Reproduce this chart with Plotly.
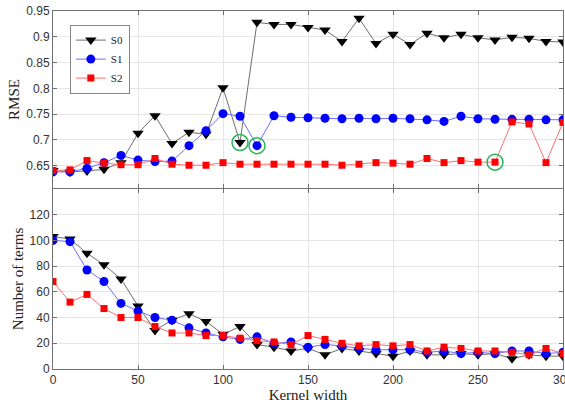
import plotly.graph_objects as go

kernel_width = list(range(0, 301, 10))

rmse_s0 = [0.641, 0.638, 0.640, 0.643, 0.656, 0.713, 0.747, 0.693, 0.715, 0.711,
           0.801, 0.695, 0.928, 0.924, 0.924, 0.918, 0.913, 0.891, 0.936, 0.887,
           0.905, 0.885, 0.907, 0.898, 0.905, 0.898, 0.894, 0.899, 0.897, 0.891, 0.890]
rmse_s1 = [0.638, 0.638, 0.645, 0.656, 0.670, 0.661, 0.658, 0.659, 0.689, 0.718,
           0.751, 0.746, 0.689, 0.747, 0.744, 0.743, 0.742, 0.741, 0.742, 0.741,
           0.742, 0.741, 0.739, 0.736, 0.746, 0.741, 0.740, 0.740, 0.740, 0.739, 0.739]
rmse_s2 = [0.641, 0.642, 0.660, 0.655, 0.652, 0.652, 0.664, 0.653, 0.651, 0.651,
           0.656, 0.653, 0.653, 0.653, 0.653, 0.653, 0.653, 0.651, 0.653, 0.656,
           0.655, 0.653, 0.664, 0.656, 0.660, 0.657, 0.657, 0.735, 0.731, 0.656, 0.734]

terms_s0 = [103, 101, 90, 81, 70, 49, 30, 38, 43, 37,
            27, 33, 19, 17, 14, 16, 11, 16, 14, 12,
            10, 14, 11, 11, 12, 11, 12, 8, 11, 10, 10]
terms_s1 = [100, 99, 77, 68, 51, 45, 40, 38, 32, 28,
            25, 23, 25, 20, 21, 17, 19, 18, 16, 15,
            15, 15, 13, 14, 12, 13, 12, 14, 14, 12, 13]
terms_s2 = [68, 52, 58, 47, 40, 40, 33, 28, 28, 26,
            26, 24, 22, 21, 19, 26, 23, 20, 18, 19,
            18, 19, 14, 17, 16, 14, 14, 13, 11, 16, 12]

# highlighted minima (kernel width, RMSE)
highlight_x = [110, 120, 260]
highlight_y = [0.695, 0.689, 0.657]

series = [
    ("S0", rmse_s0, terms_s0, "black", "rgb(110,110,110)", "triangle-down", 10),
    ("S1", rmse_s1, terms_s1, "rgb(0,0,255)", "rgb(110,110,255)", "circle", 9),
    ("S2", rmse_s2, terms_s2, "rgb(255,0,0)", "rgb(255,110,110)", "square", 7),
]

fig = go.Figure()
for name, r, t, mc, lc, sym, sz in series:
    fig.add_trace(go.Scatter(x=kernel_width, y=r, name=name, mode="lines+markers",
                             line=dict(color=lc, width=1),
                             marker=dict(symbol=sym, size=sz, color=mc),
                             xaxis="x", yaxis="y"))
for name, r, t, mc, lc, sym, sz in series:
    fig.add_trace(go.Scatter(x=kernel_width, y=t, name=name, mode="lines+markers",
                             line=dict(color=lc, width=1),
                             marker=dict(symbol=sym, size=sz, color=mc),
                             showlegend=False, xaxis="x2", yaxis="y2"))
fig.add_trace(go.Scatter(x=highlight_x, y=highlight_y, mode="markers",
                         marker=dict(symbol="circle-open", size=16,
                                     color="rgb(40,180,90)", line=dict(width=1.5)),
                         showlegend=False, xaxis="x", yaxis="y"))

axis_common = dict(showline=True, linecolor="#707070", linewidth=1, mirror="ticks",
                   ticks="inside", ticklen=4, tickcolor="#707070",
                   gridcolor="#e6e6e6", gridwidth=1, zeroline=False,
                   ticklabeloverflow="allow", automargin=False,
                   tickfont=dict(family="Liberation Sans, Arial", size=12, color="#333"))

serif = "Liberation Serif, Times New Roman, serif"

fig.update_layout(
    width=565, height=407,
    margin=dict(l=53, r=2, t=11, b=38),
    plot_bgcolor="white", paper_bgcolor="white",
    xaxis=dict(axis_common, domain=[0, 1], range=[0, 300], tickvals=list(range(0, 301, 50)),
               showticklabels=False, anchor="y"),
    yaxis=dict(axis_common, domain=[0.5058, 1], range=[0.607, 0.95],
               tickvals=[0.65, 0.7, 0.75, 0.8, 0.85, 0.9, 0.95],
               ticktext=["0.65", "0.7", "0.75", "0.8", "0.85", "0.9", "0.95"],
               title=dict(text="RMSE", font=dict(family=serif, size=15, color="#222"), standoff=2),
               anchor="x"),
    xaxis2=dict(axis_common, domain=[0, 1], range=[0, 300], tickvals=list(range(0, 301, 50)),
                anchor="y2",
                title=dict(text="Kernel width", font=dict(family=serif, size=15, color="#222"),
                           standoff=3)),
    yaxis2=dict(axis_common, domain=[0, 0.503], range=[0, 140],
                tickvals=list(range(0, 121, 20)),
                title=dict(text="Number of terms", font=dict(family=serif, size=15, color="#222"),
                           standoff=2),
                anchor="x2"),
    legend=dict(x=0.033, y=0.962, xanchor="left", yanchor="top",
                bgcolor="white", bordercolor="#888", borderwidth=1,
                font=dict(family=serif, size=11, color="#222"),
                tracegroupgap=0, itemwidth=30),
    showlegend=True,
)

fig.write_html("out.html")
